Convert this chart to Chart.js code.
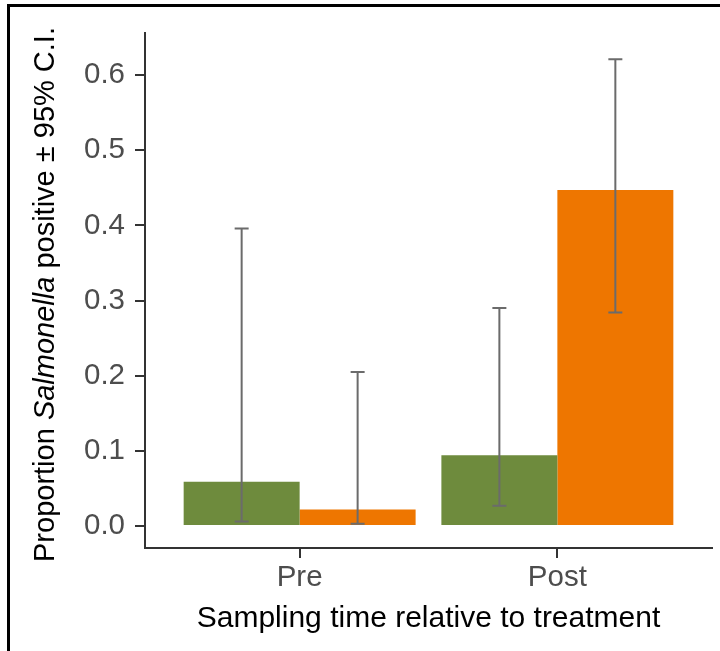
<!DOCTYPE html>
<html>
<head>
<meta charset="utf-8">
<script src="https://cdn.jsdelivr.net/npm/chart.js@4.4.1/dist/chart.umd.min.js"></script>
<style>
  body { margin: 0; background: #fff; }
  .wrap { position: relative; width: 720px; height: 651px; }
  .frame {
    position: absolute; left: 7px; top: 4px; right: 0; bottom: 0;
    border-left: 3px solid #000; border-top: 3px solid #000;
    pointer-events: none;
  }
</style>
</head>
<body>
<div class="wrap">
  <canvas id="chart" width="720" height="651"></canvas>
  <div class="frame"></div>
</div>
<script>
// Data
const categories = ['Pre', 'Post'];
const categoryPos = [1, 2];

const greenValues = [0.059, 0.094];
const greenLower = [0.006, 0.027];
const greenUpper = [0.396, 0.290];

const orangeValues = [0.022, 0.447];
const orangeLower = [0.003, 0.284];
const orangeUpper = [0.205, 0.621];

const yTicks = [0, 0.1, 0.2, 0.3, 0.4, 0.5, 0.6];

const xTitle = 'Sampling time relative to treatment';
// y title pieces: [text, italic]
const yTitleParts = [['Proportion ', false], ['Salmonella', true], [' positive \u00b1 95% C.I.', false]];

const FONT = '"Liberation Sans", Arial, sans-serif';

// Error bars, drawn from the dataset metas + y scale
const errorBars = {
  id: 'errorBars',
  afterDatasetsDraw(chart) {
    const ctx = chart.ctx;
    const yScale = chart.scales.y;
    const bounds = [[greenLower, greenUpper], [orangeLower, orangeUpper]];
    ctx.save();
    ctx.strokeStyle = '#6b6b6b';
    ctx.lineWidth = 2;
    bounds.forEach(([lo, hi], di) => {
      const meta = chart.getDatasetMeta(di);
      meta.data.forEach((bar, i) => {
        const x = bar.x;
        const yLo = yScale.getPixelForValue(lo[i]);
        const yHi = yScale.getPixelForValue(hi[i]);
        ctx.beginPath();
        ctx.moveTo(x, yLo); ctx.lineTo(x, yHi);
        ctx.moveTo(x - 7, yLo); ctx.lineTo(x + 7, yLo);
        ctx.moveTo(x - 7, yHi); ctx.lineTo(x + 7, yHi);
        ctx.stroke();
      });
    });
    ctx.restore();
  }
};

// Axis titles (the y one has an italic word in it)
const axisTitles = {
  id: 'axisTitles',
  afterDraw(chart) {
    const ctx = chart.ctx;
    const area = chart.chartArea;
    ctx.save();
    ctx.fillStyle = '#000';
    ctx.textBaseline = 'alphabetic';

    ctx.font = '30px ' + FONT;
    ctx.textAlign = 'center';
    ctx.fillText(xTitle, (area.left + area.right) / 2, 627);

    ctx.translate(54, (area.top + area.bottom) / 2 + 4);
    ctx.rotate(-Math.PI / 2);
    ctx.textAlign = 'left';
    let total = 0;
    yTitleParts.forEach(([t, it]) => {
      ctx.font = (it ? 'italic ' : '') + '29px ' + FONT;
      total += ctx.measureText(t).width;
    });
    let x = -total / 2;
    yTitleParts.forEach(([t, it]) => {
      ctx.font = (it ? 'italic ' : '') + '29px ' + FONT;
      ctx.fillText(t, x, 0);
      x += ctx.measureText(t).width;
    });
    ctx.restore();
  }
};

const ctx = document.getElementById('chart').getContext('2d');

new Chart(ctx, {
  type: 'bar',
  data: {
    datasets: [
      {
        label: 'green',
        data: categoryPos.map((p, i) => ({ x: p, y: greenValues[i] })),
        backgroundColor: '#6E8B3D'
      },
      {
        label: 'orange',
        data: categoryPos.map((p, i) => ({ x: p, y: orangeValues[i] })),
        backgroundColor: '#EE7600'
      }
    ]
  },
  options: {
    responsive: false,
    animation: false,
    devicePixelRatio: 1,
    layout: { padding: { left: 0, top: 33, right: 8, bottom: 0 } },
    datasets: { bar: { barPercentage: 1, categoryPercentage: 0.9 } },
    plugins: {
      legend: { display: false },
      tooltip: { enabled: false }
    },
    scales: {
      x: {
        type: 'linear',
        min: 0.4,
        max: 2.6,
        offset: false,
        afterFit: scale => { scale.height = 103; },
        afterBuildTicks: scale => { scale.ticks = categoryPos.map(v => ({ value: v })); },
        ticks: {
          callback: v => categories[categoryPos.indexOf(v)],
          font: { family: FONT, size: 29.5 },
          color: '#4D4D4D',
          padding: 2,
          maxRotation: 0
        },
        grid: { offset: false, drawOnChartArea: false, color: '#333', lineWidth: 2, tickLength: 10 },
        border: { display: true, color: '#333', width: 2 }
      },
      y: {
        min: -0.0293,
        max: 0.656,
        afterFit: scale => { scale.width = 145; },
        afterBuildTicks: scale => { scale.ticks = yTicks.map(v => ({ value: v })); },
        ticks: {
          callback: v => v.toFixed(1),
          font: { family: FONT, size: 29.5 },
          color: '#4D4D4D',
          padding: 10
        },
        grid: { drawOnChartArea: false, color: '#333', lineWidth: 2, tickLength: 10 },
        border: { display: true, color: '#333', width: 2 }
      }
    }
  },
  plugins: [errorBars, axisTitles]
});
</script>
</body>
</html>
